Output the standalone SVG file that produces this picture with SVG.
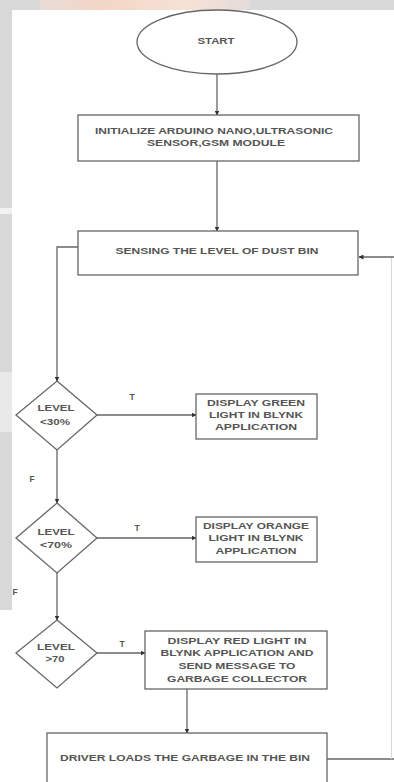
<svg xmlns="http://www.w3.org/2000/svg" width="394" height="782" viewBox="0 0 394 782">
<defs>
<marker id="ah" viewBox="0 0 10 10" refX="9" refY="5" markerWidth="5" markerHeight="5" orient="auto" markerUnits="userSpaceOnUse">
<path d="M0,0 L10,5 L0,10 z" fill="#333"/>
</marker>
<linearGradient id="wm" x1="0" y1="0" x2="1" y2="0">
<stop offset="0" stop-color="#e8dcd6"/>
<stop offset="0.3" stop-color="#f3d6c6"/>
<stop offset="0.7" stop-color="#f6e2d6"/>
<stop offset="1" stop-color="#e2dcda"/>
</linearGradient>
</defs>
<style>
.shape{fill:#fff;stroke:#666;stroke-width:1.3}
.ln{fill:none;stroke:#666;stroke-width:1.3}
.t{font-family:"Liberation Sans",Arial,sans-serif;font-size:8.5px;font-weight:bold;fill:#555;text-anchor:middle;dominant-baseline:middle}
</style>
<rect x="0" y="0" width="394" height="782" fill="#fff"/>
<g id="bg">
<rect x="0" y="0" width="394" height="10" fill="#d9d9d9"/>
<rect x="40" y="0" width="210" height="10" fill="url(#wm)"/>
<rect x="0" y="0" width="12" height="610" fill="#d8d8d8"/>
<rect x="0" y="208" width="12" height="6" fill="#f2f2f2"/>
<rect x="0" y="372" width="12" height="60" fill="#e9e9e9"/>
</g>
<g id="connectors">
<line class="ln" x1="217" y1="74" x2="217" y2="115" marker-end="url(#ah)"/>
<line class="ln" x1="217" y1="161" x2="217" y2="231" marker-end="url(#ah)"/>
<polyline class="ln" points="78,247 57,247 57,381" marker-end="url(#ah)"/>
<line class="ln" x1="97" y1="415" x2="196" y2="415" marker-end="url(#ah)"/>
<line class="ln" x1="57" y1="450" x2="57" y2="503" marker-end="url(#ah)"/>
<line class="ln" x1="97" y1="538" x2="196" y2="538" marker-end="url(#ah)"/>
<line class="ln" x1="57" y1="573" x2="57" y2="620" marker-end="url(#ah)"/>
<line class="ln" x1="97" y1="653" x2="145" y2="653" marker-end="url(#ah)"/>
<line class="ln" x1="187" y1="689" x2="187" y2="733" marker-end="url(#ah)"/>
<line class="ln" x1="327" y1="759" x2="394" y2="759"/>
<line x1="391.5" y1="257" x2="391.5" y2="759" stroke="#d8d8d8" stroke-width="1"/>
<line class="ln" x1="394" y1="257" x2="359" y2="257" marker-end="url(#ah)"/>
<text class="t" x="132" y="398">T</text>
<text class="t" x="32" y="480">F</text>
<text class="t" x="137" y="529">T</text>
<text class="t" x="15" y="593">F</text>
<text class="t" x="122" y="645">T</text>
</g>
<g id="start">
<ellipse class="shape" cx="217" cy="42" rx="80" ry="32"/>
<text class="t" x="216" y="42" textLength="37" lengthAdjust="spacingAndGlyphs">START</text>
</g>
<g id="init">
<rect class="shape" x="78" y="115" width="281" height="46"/>
<text class="t" x="214" y="132" textLength="238" lengthAdjust="spacingAndGlyphs">INITIALIZE ARDUINO NANO,ULTRASONIC</text>
<text class="t" x="216" y="144" textLength="138" lengthAdjust="spacingAndGlyphs">SENSOR,GSM MODULE</text>
</g>
<g id="sense">
<rect class="shape" x="78" y="231" width="280" height="44"/>
<text class="t" x="217" y="252" textLength="203" lengthAdjust="spacingAndGlyphs">SENSING THE LEVEL OF DUST BIN</text>
</g>
<g id="dec30">
<polygon class="shape" points="57,381 97,415 57,450 16,415"/>
<text class="t" x="56" y="409" textLength="37" lengthAdjust="spacingAndGlyphs">LEVEL</text>
<text class="t" x="55" y="423" textLength="30" lengthAdjust="spacingAndGlyphs">&lt;30%</text>
</g>
<g id="green">
<rect class="shape" x="196" y="394" width="121" height="45"/>
<text class="t" x="256" y="404" textLength="98" lengthAdjust="spacingAndGlyphs">DISPLAY GREEN</text>
<text class="t" x="256" y="416" textLength="94" lengthAdjust="spacingAndGlyphs">LIGHT IN BLYNK</text>
<text class="t" x="256" y="428" textLength="82" lengthAdjust="spacingAndGlyphs">APPLICATION</text>
</g>
<g id="dec70">
<polygon class="shape" points="57,503 97,538 57,573 16,538"/>
<text class="t" x="56" y="533" textLength="37" lengthAdjust="spacingAndGlyphs">LEVEL</text>
<text class="t" x="56" y="546" textLength="32" lengthAdjust="spacingAndGlyphs">&lt;70%</text>
</g>
<g id="orange">
<rect class="shape" x="196" y="517" width="121" height="45"/>
<text class="t" x="256" y="527" textLength="106" lengthAdjust="spacingAndGlyphs">DISPLAY ORANGE</text>
<text class="t" x="256" y="539" textLength="95" lengthAdjust="spacingAndGlyphs">LIGHT IN BLYNK</text>
<text class="t" x="256" y="552" textLength="81" lengthAdjust="spacingAndGlyphs">APPLICATION</text>
</g>
<g id="decgt70">
<polygon class="shape" points="57,620 97,653 57,688 16,653"/>
<text class="t" x="56" y="648" textLength="38" lengthAdjust="spacingAndGlyphs">LEVEL</text>
<text class="t" x="55" y="660" textLength="19" lengthAdjust="spacingAndGlyphs">&gt;70</text>
</g>
<g id="red">
<rect class="shape" x="145" y="631" width="182" height="58"/>
<text class="t" x="237" y="642" textLength="139" lengthAdjust="spacingAndGlyphs">DISPLAY RED LIGHT IN</text>
<text class="t" x="237" y="654" textLength="153" lengthAdjust="spacingAndGlyphs">BLYNK APPLICATION AND</text>
<text class="t" x="237" y="667" textLength="117" lengthAdjust="spacingAndGlyphs">SEND MESSAGE TO</text>
<text class="t" x="237" y="680" textLength="140" lengthAdjust="spacingAndGlyphs">GARBAGE COLLECTOR</text>
</g>
<g id="driver">
<rect class="shape" x="47" y="733" width="280" height="60"/>
<text class="t" x="185" y="759" textLength="250" lengthAdjust="spacingAndGlyphs">DRIVER LOADS THE GARBAGE IN THE BIN</text>
</g>
</svg>
